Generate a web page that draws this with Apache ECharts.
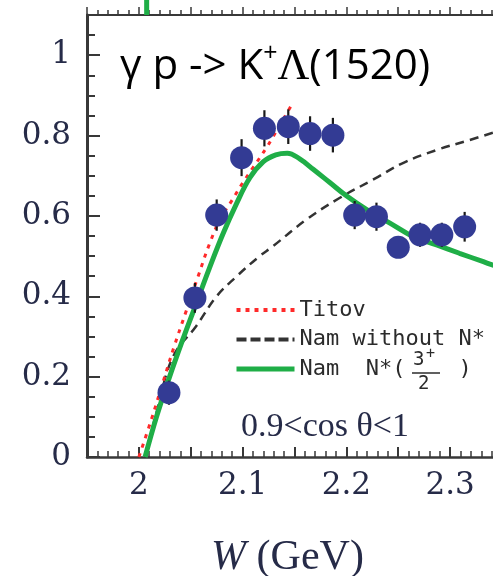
<!DOCTYPE html>
<html>
<head>
<meta charset="utf-8">
<script src="https://cdn.jsdelivr.net/npm/echarts@6/dist/echarts.min.js"></script>
<style>
  html, body { margin: 0; padding: 0; background: #fff; }
  #chart { width: 493px; height: 576px; }
</style>
</head>
<body>
<div id="chart"></div>
<script>
// measured points (W in GeV, dσ/dcosθ)
const dataW = [2.029, 2.054, 2.075, 2.099, 2.121, 2.144, 2.165, 2.187, 2.208, 2.229, 2.250, 2.271, 2.292, 2.314];
const dataY = [0.160, 0.396, 0.602, 0.745, 0.818, 0.822, 0.805, 0.801, 0.602, 0.598, 0.522, 0.553, 0.553, 0.573];
const dataErr = [0.030, 0.037, 0.039, 0.046, 0.045, 0.043, 0.043, 0.043, 0.035, 0.035, 0.025, 0.030, 0.030, 0.037];

// model curves
const titovW = [2.000, 2.012, 2.023, 2.034, 2.046, 2.057, 2.068, 2.078, 2.090, 2.100, 2.110, 2.123, 2.135, 2.148];
const titovY = [0.000, 0.093, 0.184, 0.275, 0.366, 0.449, 0.530, 0.590, 0.640, 0.682, 0.720, 0.770, 0.822, 0.880];

const namNoW = [2.006, 2.018, 2.033, 2.055, 2.075, 2.094, 2.116, 2.129, 2.161, 2.193, 2.227, 2.254, 2.287, 2.319, 2.345];
const namNoY = [0.000, 0.120, 0.250, 0.325, 0.400, 0.449, 0.499, 0.524, 0.590, 0.644, 0.692, 0.731, 0.764, 0.789, 0.810];

const namW = [2.006, 2.017, 2.029, 2.042, 2.055, 2.068, 2.081, 2.094, 2.107, 2.120, 2.132, 2.143, 2.155, 2.168, 2.184, 2.200, 2.220, 2.242, 2.264, 2.287, 2.309, 2.332, 2.345];
const namY = [0.000, 0.100, 0.195, 0.290, 0.380, 0.470, 0.555, 0.630, 0.695, 0.735, 0.752, 0.756, 0.742, 0.716, 0.683, 0.650, 0.615, 0.582, 0.549, 0.528, 0.507, 0.486, 0.474];

// stub of the curve from the panel above
const upperW = [2.0075, 2.0075];
const upperY = [1.100, 1.150];

// axes
const xMin = 1.95, xMax = 2.35, xStep = 0.05;
const yMin = 0, yMax = 1.1, yStep = 0.2;
const xLabelValues = [2.0, 2.1, 2.2, 2.3];
const yLabelValues = [0, 0.2, 0.4, 0.6, 0.8, 1];

const zip = (a, b) => a.map((v, i) => [v, b[i]]);
const isIn = (list, v) => list.some((l) => Math.abs(l - v) < 1e-6);

const axisColor = '#383838';
const labelColor = '#262b48';

const chart = echarts.init(document.getElementById('chart'));

chart.setOption({
  animation: false,
  grid: { left: 87, top: 15, width: 415, height: 442, outerBoundsMode: 'none', containLabel: false },
  title: [
    {
      text: '{a|γ p -> K}{s|+}{l|Λ}{a|(1520)}',
      left: 115,
      top: 36,
      textStyle: {
        rich: {
          a: { fontFamily: 'Open Sans', fontSize: 42, fontWeight: 'normal', color: '#000', lineHeight: 52 },
          s: { fontFamily: 'Open Sans', fontSize: 25, fontWeight: 'normal', color: '#000', verticalAlign: 'top', lineHeight: 25 },
          l: { fontFamily: 'Liberation Serif', fontSize: 44, fontWeight: 'normal', color: '#000', lineHeight: 52 },
        },
      },
    },
    {
      text: '0.9<cos θ<1',
      left: 236,
      top: 405,
      textStyle: { fontFamily: 'Liberation Serif', fontSize: 34, fontWeight: 'normal', color: labelColor },
    },
  ],
  legend: {
    left: 229,
    top: 292,
    orient: 'vertical',
    itemWidth: 58,
    itemHeight: 14,
    itemGap: 3.5,
    selectedMode: false,
    textStyle: { fontFamily: 'DejaVu Sans Mono', fontSize: 22, color: '#2b2b2b', lineHeight: 26 },
    formatter: (name) => (name === 'Nam N*' ? 'Nam  N*(    )' : name),
    data: [
      { name: 'Titov', lineStyle: { width: 4, type: [4, 5] }, itemStyle: { opacity: 0 } },
      { name: 'Nam without N*', lineStyle: { width: 4, type: [10, 4] }, itemStyle: { opacity: 0 } },
      { name: 'Nam N*', lineStyle: { width: 5 }, itemStyle: { opacity: 0 } },
    ],
  },
  graphic: [
    { type: 'text', left: 413, top: 351, style: { text: '3', fontFamily: 'DejaVu Sans Mono', fontSize: 19, fill: '#2b2b2b' } },
    { type: 'text', left: 426, top: 347, style: { text: '+', fontFamily: 'DejaVu Sans Mono', fontSize: 15, fill: '#2b2b2b' } },
    { type: 'line', shape: { x1: 412, y1: 373, x2: 440, y2: 373 }, style: { stroke: '#2b2b2b', lineWidth: 1.5 } },
    { type: 'text', left: 418, top: 375, style: { text: '2', fontFamily: 'DejaVu Sans Mono', fontSize: 19, fill: '#2b2b2b' } },
  ],
  xAxis: [
    {
      type: 'value',
      min: xMin,
      max: xMax,
      interval: xStep,
      position: 'bottom',
      splitLine: { show: false },
      axisLine: { onZero: false, lineStyle: { color: axisColor, width: 2.5 } },
      axisTick: { inside: true, length: 10, lineStyle: { color: axisColor, width: 2 } },
      minorTick: { show: true, splitNumber: 5, length: 6, lineStyle: { color: axisColor, width: 1.5 } },
      axisLabel: {
        formatter: (v) => (isIn(xLabelValues, v) ? String(+v.toFixed(1)) : ''),
        fontFamily: 'DejaVu Serif',
        fontSize: 31,
        color: labelColor,
        margin: 13,
      },
      name: '{i|W} (GeV)',
      nameLocation: 'middle',
      nameGap: 80,
      nameTextStyle: {
        fontFamily: 'Liberation Serif',
        fontSize: 42,
        color: labelColor,
        padding: [0, 14, 0, 0],
        rich: { i: { fontFamily: 'Liberation Serif', fontStyle: 'italic', fontSize: 42, color: labelColor } },
      },
    },
    {
      type: 'value',
      min: xMin,
      max: xMax,
      interval: xStep,
      position: 'top',
      splitLine: { show: false },
      axisLine: { onZero: false, lineStyle: { color: axisColor, width: 2 } },
      axisTick: { inside: false, length: 8, lineStyle: { color: axisColor, width: 1.5 } },
      minorTick: { show: true, splitNumber: 5, length: 5, lineStyle: { color: axisColor, width: 1.5 } },
      axisLabel: { show: false },
    },
  ],
  yAxis: [
    {
      type: 'value',
      min: yMin,
      max: yMax,
      interval: yStep,
      position: 'left',
      splitLine: { show: false },
      axisLine: { show: true, onZero: false, lineStyle: { color: axisColor, width: 3 } },
      axisTick: { inside: true, length: 13, lineStyle: { color: axisColor, width: 2 } },
      minorTick: { show: true, splitNumber: 4, length: 8, lineStyle: { color: axisColor, width: 2 } },
      axisLabel: {
        formatter: (v) => (isIn(yLabelValues, v) ? String(+v.toFixed(1)) : ''),
        fontFamily: 'DejaVu Serif',
        fontSize: 31,
        color: labelColor,
        margin: 16,
      },
    },
  ],
  series: [
    {
      name: 'Nam without N*',
      type: 'line',
      data: zip(namNoW, namNoY),
      smooth: 0.4,
      symbol: 'none',
      lineStyle: { color: '#333333', width: 2.5, type: [9, 6] },
      itemStyle: { color: '#333333' },
      z: 2,
    },
    {
      name: 'Titov',
      type: 'line',
      data: zip(titovW, titovY),
      smooth: 0.4,
      symbol: 'none',
      lineStyle: { color: '#ff2a2a', width: 3, type: [4, 6] },
      itemStyle: { color: '#ff2a2a' },
      z: 3,
    },
    {
      name: 'Nam N*',
      type: 'line',
      data: zip(namW, namY),
      smooth: 0.4,
      symbol: 'none',
      lineStyle: { color: '#1fae47', width: 5 },
      itemStyle: { color: '#1fae47' },
      z: 4,
    },
    {
      name: 'upper',
      type: 'line',
      data: zip(upperW, upperY),
      symbol: 'none',
      clip: false,
      lineStyle: { color: '#1fae47', width: 5 },
      z: 4,
    },
    {
      name: 'errors',
      type: 'custom',
      data: dataW.map((w, i) => [w, dataY[i], dataErr[i]]),
      renderItem: (params, api) => {
        const x = api.value(0);
        const y = api.value(1);
        const e = api.value(2);
        const top = api.coord([x, y + e]);
        const bot = api.coord([x, y - e]);
        return {
          type: 'line',
          shape: { x1: top[0], y1: top[1], x2: bot[0], y2: bot[1] },
          style: { stroke: '#1a1a1a', lineWidth: 2.2 },
        };
      },
      z: 5,
    },
    {
      name: 'data',
      type: 'scatter',
      data: zip(dataW, dataY),
      symbol: 'circle',
      symbolSize: 23,
      itemStyle: { color: '#333b94', opacity: 1 },
      z: 6,
    },
  ],
});
</script>
</body>
</html>
